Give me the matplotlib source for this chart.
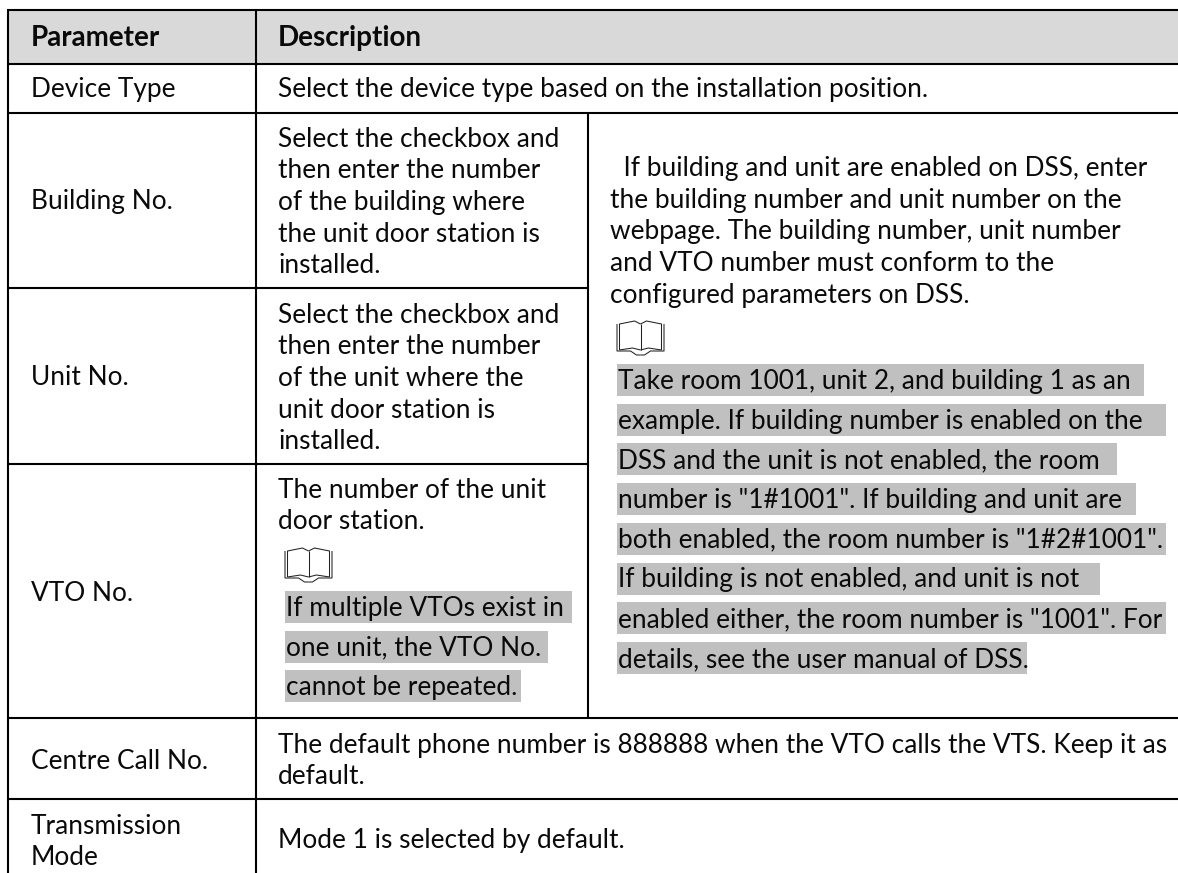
import matplotlib
matplotlib.use("Agg")
import matplotlib.pyplot as plt
from matplotlib.patches import Rectangle

# ---- content ----
headers = ["Parameter", "Description"]
param_labels = ["Device Type", "Building No.", "Unit No.", "VTO No.", "Centre Call No."]
transmission_label = ["Transmission", "Mode"]
device_desc = "Select the device type based on the installation position."
building_desc = ["Select the checkbox and", "then enter the number", "of the building where",
                 "the unit door station is", "installed."]
unit_desc = ["Select the checkbox and", "then enter the number", "of the unit where the",
             "unit door station is", "installed."]
vto_desc = ["The number of the unit", "door station."]
vto_note = ["If multiple VTOs exist in ", "one unit, the VTO No. ", "cannot be repeated."]
dss_desc = ["  If building and unit are enabled on DSS, enter", "the building number and unit number on the",
            "webpage. The building number, unit number", "and VTO number must conform to the",
            "configured parameters on DSS."]
dss_note = ["Take room 1001, unit 2, and building 1 as an ", "example. If building number is enabled on the ",
            "DSS and the unit is not enabled, the room ", "number is \"1#1001\". If building and unit are ",
            "both enabled, the room number is \"1#2#1001\".", "If building is not enabled, and unit is not ",
            "enabled either, the room number is \"1001\". For", "details, see the user manual of DSS."]
centre_desc = ["The default phone number is 888888 when the VTO calls the VTS. Keep it as", "default."]
mode_desc = "Mode 1 is selected by default."

# ---- layout ----
W, H = 1178, 873
FONT = "Lato"
FS = 18.95
FS_HEAD = 20.0
LW = 1.5
TEXT_DY = 0.9
X_L, X_1, X_2 = 7.7, 255.7, 588.0
Y_TOP, Y_HEAD, Y_DEV, Y_BLD, Y_UNIT, Y_VTO, Y_CTR = 9.5, 63.5, 112.5, 287.5, 463.7, 718.3, 798.7
HEAD_FILL, HL_FILL = "#d9d9d9", "#c0c0c0"
vto_hl_right = [572, 547.7, 521]
dss_hl_right = [1143.6, 1165.8, 1117, 1135.6, 1165.8, 1099.6, 1165.8, 1026.5]

plt.rcParams["font.family"] = [FONT, "DejaVu Sans"]
fig = plt.figure(figsize=(W / 100, H / 100), dpi=100, facecolor="white")
ax = fig.add_axes([0, 0, 1, 1])
ax.set_xlim(0, W)
ax.set_ylim(H, 0)
ax.axis("off")


def txt(x, y, s, fs=FS, **kw):
    ax.text(x, y + TEXT_DY, s, fontsize=fs, color="#0a0a0a", va="baseline", ha="left", zorder=3, **kw)


def block(x, y0, lines, step=31.7):
    for i, s in enumerate(lines):
        txt(x, y0 + i * step, s)


def note(x, y0, lines, rights, step=39.72):
    for i, (s, r) in enumerate(zip(lines, rights)):
        y = y0 + i * step
        ax.add_patch(Rectangle((x, y - 24), r - x, 32, fc=HL_FILL, ec="none", zorder=1))
        txt(x + 0.5, y, s)


def book(x, y):
    """Open-book note icon, 47 x 35 px, top-left at (x, y)."""
    kw = dict(color="#222222", lw=0.75, zorder=3, solid_capstyle="butt")
    m = x + 23.5
    for sign in (-1, 1):
        ax.plot([m + sign * 21, m + sign * 21, m + sign * 6, m], [y + 29, y + 3, y, y + 3], **kw)
        ax.plot([m + sign * 23.5, m + sign * 23.5, m + sign * 10, m + sign * 4, m],
                [y + 3, y + 30, y + 30, y + 34, y + 34], **kw)
        ax.plot([m + sign * 21, m + sign * 8, m], [y + 29, y + 27, y + 29], **kw)
    ax.plot([m, m], [y + 3, y + 29], **kw)


# header band
ax.add_patch(Rectangle((X_L, Y_TOP), W - X_L, Y_HEAD - Y_TOP, fc=HEAD_FILL, ec="none", zorder=0))

# rules
rule = dict(color="black", lw=LW, zorder=4, solid_capstyle="butt")
for y in (Y_TOP, Y_HEAD, Y_DEV, Y_VTO, Y_CTR):
    ax.plot([X_L - 1, W], [y, y], **rule)
for y in (Y_BLD, Y_UNIT):
    ax.plot([X_L, X_2], [y, y], **rule)
ax.plot([X_L, X_L], [Y_TOP, H], **rule)
ax.plot([X_1, X_1], [Y_TOP, H], **rule)
ax.plot([X_2, X_2], [Y_DEV, Y_VTO], **rule)

# header text
txt(30.6, 45, headers[0], fs=FS_HEAD, fontweight="bold")
txt(278, 45, headers[1], fs=FS_HEAD, fontweight="bold")

# first column
for s, y in zip(param_labels, (96, 208.3, 384.3, 600, 768)):
    txt(30.6, y, s)
block(30.6, 832.7, transmission_label, step=31.5)

# description column
txt(278, 96, device_desc)
block(278, 145.7, building_desc)
block(278, 321.7, unit_desc)
block(278, 496.7, vto_desc)
book(285, 548)
note(285, 615, vto_note, vto_hl_right)
block(610.5, 175, dss_desc)
book(617, 321)
note(617, 388, dss_note, dss_hl_right)
block(278, 751.7, centre_desc)
txt(278, 847, mode_desc)

fig.savefig("out.png", dpi=100, facecolor="white")
